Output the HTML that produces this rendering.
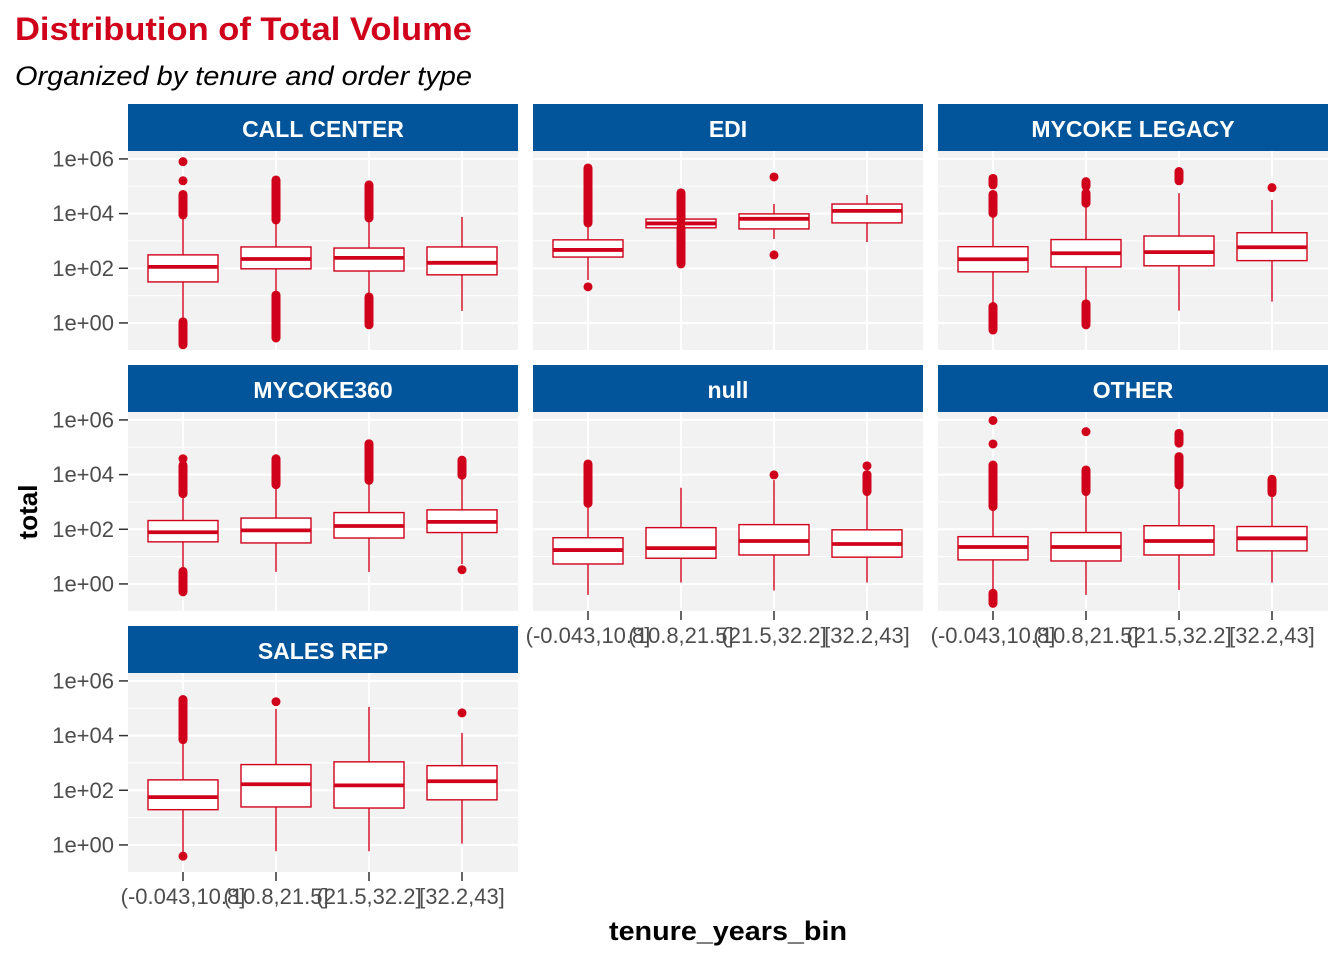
<!DOCTYPE html>
<html><head><meta charset="utf-8"><style>
html,body{margin:0;padding:0;background:#fff;}
svg{display:block;font-family:"Liberation Sans",Arial,sans-serif;}
</style></head><body>
<svg id="chart" width="1344" height="960" viewBox="0 0 1344 960" xmlns="http://www.w3.org/2000/svg">
<rect x="0" y="0" width="1344" height="960" fill="#ffffff"/>
<text x="15" y="40" font-size="32" font-weight="bold" fill="#D0021B" textLength="457" lengthAdjust="spacingAndGlyphs">Distribution of Total Volume</text>
<text x="15" y="85" font-size="27" font-style="italic" fill="#000" textLength="457" lengthAdjust="spacingAndGlyphs">Organized by tenure and order type</text>
<text transform="translate(37,512) rotate(-90)" text-anchor="middle" font-size="26" font-weight="bold" fill="#000">total</text>
<text x="728" y="940" text-anchor="middle" font-size="27" font-weight="bold" fill="#000" textLength="238" lengthAdjust="spacingAndGlyphs">tenure_years_bin</text>
<g id="panels"></g>
</svg>
<script>
const categories = ["(-0.043,10.8]","(10.8,21.5]","(21.5,32.2]","[32.2,43]"];
const facets = ["CALL CENTER","EDI","MYCOKE LEGACY","MYCOKE360","null","OTHER","SALES REP"];
const yTicks = [0,2,4,6];
const yTickLabels = ["1e+00","1e+02","1e+04","1e+06"];
// log10 values per facet, per category: [whiskerLow, q1, median, q3, whiskerHigh]
const stats = [
 [[0.04,1.5,2.05,2.49,3.95],[1.02,1.98,2.34,2.78,3.77],[0.95,1.9,2.38,2.74,3.84],[0.44,1.76,2.2,2.78,3.88]],
 [[1.57,2.41,2.67,3.04,3.66],[3.48,3.48,3.64,3.8,3.8],[3.07,3.44,3.81,3.99,4.35],[2.96,3.66,4.1,4.35,4.68]],
 [[0.6,1.87,2.33,2.79,4.01],[0.7,2.05,2.55,3.05,4.38],[0.45,2.09,2.59,3.18,4.75],[0.78,2.28,2.77,3.3,4.5]],
 [[0.46,1.54,1.89,2.32,3.3],[0.44,1.5,1.96,2.41,3.63],[0.44,1.68,2.12,2.61,3.79],[0.72,1.88,2.27,2.71,3.98]],
 [[-0.4,0.73,1.24,1.69,2.95],[0.05,0.94,1.31,2.06,3.52],[-0.24,1.06,1.57,2.17,3.8],[0.05,0.98,1.46,1.98,3.38]],
 [[-0.34,0.88,1.35,1.73,2.83],[-0.4,0.84,1.35,1.88,3.38],[-0.22,1.06,1.57,2.13,3.62],[0.05,1.21,1.67,2.1,3.19]],
 [[-0.29,1.29,1.75,2.38,3.85],[-0.23,1.39,2.22,2.94,4.98],[-0.23,1.35,2.18,3.04,5.05],[0.05,1.65,2.33,2.9,4.1]]
];
// outlier clusters (log10): [low, high] ranges; equal values = single point
const outliers = [
 [[[3.95,4.7],[5.2,5.2],[5.9,5.9],[-0.8,0.04]],[[3.77,5.23],[-0.55,1.02]],[[3.84,5.05],[-0.07,0.95]],[]],
 [[[3.66,5.67],[1.32,1.32]],[[3.8,4.76],[2.16,3.48]],[[5.34,5.34],[2.49,2.49]],[]],
 [[[4.01,4.7],[5.05,5.29],[-0.26,0.6]],[[4.38,4.75],[5.0,5.17],[-0.07,0.7]],[[5.2,5.54]],[[4.95,4.95]]],
 [[[3.3,4.34],[4.58,4.58],[-0.29,0.46]],[[3.63,4.58]],[[3.79,5.13]],[[3.98,4.53],[0.52,0.52]]],
 [[[2.95,4.39]],[],[[3.99,3.99]],[[3.38,4.0],[4.32,4.32]]],
 [[[2.83,4.35],[5.12,5.12],[5.98,5.98],[-0.71,-0.34]],[[3.38,4.17],[5.57,5.57]],[[3.62,4.66],[5.15,5.51]],[[3.34,3.83]]],
 [[[3.85,5.32],[-0.41,-0.41]],[[5.24,5.24]],[],[[4.83,4.83]]]
];
const NS="http://www.w3.org/2000/svg";
const root=document.getElementById('panels');
const RED="#D0021B";
const colX=[128,533,938], rowY=[151,412,673], PW=390, PH=199;
const yMin=-0.99, yMax=6.29;
function mk(tag,attrs,parent){const e=document.createElementNS(NS,tag);for(const k in attrs)e.setAttribute(k,attrs[k]);(parent||root).appendChild(e);return e;}
function yScale(v,top){return top+PH-(v-yMin)/(yMax-yMin)*PH;}
function xScale(i,left){return left+55+i*93;}
facets.forEach((f,fi)=>{
  const c=fi%3, r=Math.floor(fi/3), left=colX[c], top=rowY[r];
  const g=mk('g',{});
  
  
  const strip=mk('rect',{x:left,y:top-47,width:PW,height:47,fill:"#02559B"},g);
  
  
  const st=mk('text',{x:left+PW/2,y:top-14,'text-anchor':'middle','font-size':23,'font-weight':'bold',fill:'#fff'},g);
  st.textContent=f;
  
  
  const bg=mk('rect',{x:left,y:top,width:PW,height:PH,fill:"#F2F2F2"},g);
  
  
  for(let v=-1;v<=7;v++){const y=yScale(v,top);if(y<top||y>top+PH)continue;
    mk('line',{x1:left,x2:left+PW,y1:y,y2:y,stroke:'#fff','stroke-width':(v%2===0)?2:1},g);}
  categories.forEach((cat,i)=>{const x=xScale(i,left);mk('line',{x1:x,x2:x,y1:top,y2:top+PH,stroke:'#fff','stroke-width':2},g);});
  if(c===0){yTicks.forEach((t,k)=>{const y=yScale(t,top);
    mk('line',{x1:left-9,x2:left,y1:y,y2:y,stroke:'#333','stroke-width':1.5},g);
    const tl=mk('text',{x:left-14,y:y+7.5,'text-anchor':'end','font-size':22,fill:'#4d4d4d'},g);
    tl.textContent=yTickLabels[k];
    
    });}
  const showX=(fi>=4);
  if(showX){categories.forEach((cat,i)=>{const x=xScale(i,left);
    mk('line',{x1:x,x2:x,y1:top+PH,y2:top+PH+9,stroke:'#333','stroke-width':1.5},g);
    const xl=mk('text',{x:x,y:top+PH+32,'text-anchor':'middle','font-size':22,fill:'#4d4d4d'},g);
    xl.textContent=cat;
    
    });}
  stats[fi].forEach((s,i)=>{
    const x=xScale(i,left), hw=35;
    const bx=mk('g',{},g);
    
    
    mk('line',{x1:x,x2:x,y1:yScale(s[0],top),y2:yScale(s[1],top),stroke:RED,'stroke-width':1.4},bx);
    mk('line',{x1:x,x2:x,y1:yScale(s[3],top),y2:yScale(s[4],top),stroke:RED,'stroke-width':1.4},bx);
    const yq3=yScale(s[3],top), yq1=yScale(s[1],top);
    mk('rect',{x:x-hw,y:yq3,width:2*hw,height:Math.max(yq1-yq3,0.5),fill:'#fff',stroke:RED,'stroke-width':1.4},bx);
    const ym=yScale(s[2],top);
    mk('line',{x1:x-hw,x2:x+hw,y1:ym,y2:ym,stroke:RED,'stroke-width':3.8},bx);
    outliers[fi][i].forEach(o=>{
      const p=mk('line',{x1:x,x2:x,y1:yScale(o[0],top),y2:yScale(o[1],top)+0.01,stroke:RED,'stroke-width':9,'stroke-linecap':'round'},bx);
      
      
    });
  });
});
</script>
</body></html>
